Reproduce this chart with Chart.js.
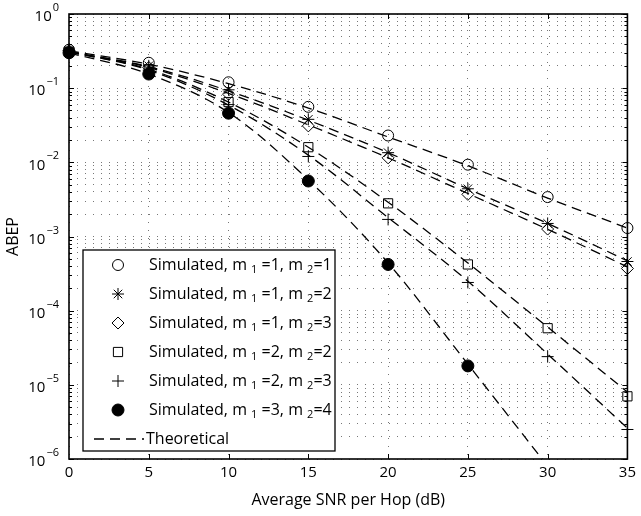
<!DOCTYPE html>
<html lang="en">
<head>
  <meta charset="UTF-8" />
  <title>ABEP vs Average SNR per Hop</title>
  <script src="https://cdn.jsdelivr.net/npm/chart.js"></script>
  <style>
    html, body { margin: 0; padding: 0; background: #fff; }
    #wrap { width: 641px; height: 516px; }
  </style>
</head>
<body>
  <div id="wrap"><canvas id="abepChart"></canvas></div>

  <script>
    // x values (dB)
    const snrDb = [0, 5, 10, 15, 20, 25, 30, 35];

    // simulated points
    const sim11 = [0.33, 0.22, 0.12, 0.056, 0.023, 0.0093, 0.0034, 0.0013];
    const sim12 = [0.32, 0.20, 0.095, 0.038, 0.0135, 0.0044, 0.0015, 0.00046];
    const sim13 = [0.32, 0.19, 0.083, 0.031, 0.0115, 0.0037, 0.00126, 0.00037];
    const sim22 = [0.31, 0.18, 0.065, 0.016, 0.0028, 0.00042, 0.000058, 0.000007];
    const sim23 = [0.31, 0.175, 0.060, 0.012, 0.0017, 0.00024, 0.000024, 0.0000025];
    const sim34 = [0.30, 0.155, 0.046, 0.0056, 0.00042, 0.000018];

    // theoretical curves
    const theo11 = [0.32, 0.21, 0.115, 0.054, 0.022, 0.0090, 0.0033, 0.0013];
    const theo12 = [0.31, 0.195, 0.092, 0.037, 0.0135, 0.0044, 0.0015, 0.00047];
    const theo13 = [0.31, 0.19, 0.085, 0.032, 0.0115, 0.0038, 0.00125, 0.00039];
    const theo22 = [0.31, 0.18, 0.065, 0.016, 0.0029, 0.00044, 0.00006, 0.000008];
    const theo23 = [0.31, 0.175, 0.059, 0.0125, 0.0018, 0.00025, 0.000026, 0.0000026];
    const theo34 = [0.30, 0.155, 0.047, 0.0058, 0.00044, 0.000019, 0.0000008];

    const fadingPairs = [["1", "1"], ["1", "2"], ["1", "3"], ["2", "2"], ["2", "3"], ["3", "4"]];
    const markerStyles = ["circle", "star", "rectRot", "rect", "cross", "circle"];
    const markerRadius = [5.5, 6, 6, 6.5, 6, 6];
    const markerFilled = [false, false, false, false, false, true];

    const simSeries = [sim11, sim12, sim13, sim22, sim23, sim34];
    const theoSeries = [theo11, theo12, theo13, theo22, theo23, theo34];

    const fontFamily = "'Open Sans', sans-serif";
    Chart.defaults.font.family = fontFamily;
    Chart.defaults.color = "#000";

    function toPoints(arr) {
      return arr.map((v, i) => ({ x: snrDb[i], y: v }));
    }

    const datasets = [];
    simSeries.forEach((s, i) => {
      datasets.push({
        label: "sim" + i,
        data: toPoints(s),
        showLine: false,
        pointStyle: markerStyles[i],
        pointRadius: markerRadius[i],
        pointBorderWidth: 1,
        borderColor: "#000",
        pointBorderColor: "#000",
        pointBackgroundColor: markerFilled[i] ? "#000" : "rgba(0,0,0,0)",
        clip: false
      });
    });
    theoSeries.forEach((s, i) => {
      datasets.push({
        label: "theo" + i,
        data: toPoints(s),
        borderColor: "#000",
        borderWidth: 1.3,
        borderDash: [10, 6],
        pointRadius: 0,
        cubicInterpolationMode: "monotone",
        fill: false
      });
    });

    // "Simulated, m1 =a, m2=b" with lowered indices
    const drawSimLabel = (ctx, x, y, a, b) => {
      const big = "16px " + fontFamily;
      const small = "11px " + fontFamily;
      const pieces = [
        ["Simulated, m ", big, 0],
        ["1", small, 5],
        [" =" + a + ", m ", big, 0],
        ["2", small, 5],
        ["=" + b, big, 0]
      ];
      let cx = x;
      pieces.forEach(p => {
        ctx.font = p[1];
        ctx.fillText(p[0], cx, y + p[2]);
        cx += ctx.measureText(p[0]).width;
      });
    };

    const framePlugin = {
      id: "frame",
      afterDraw(chart) {
        const ctx = chart.ctx;
        const area = chart.chartArea;
        const xs = chart.scales.x;
        const ys = chart.scales.y;
        ctx.save();
        ctx.strokeStyle = "#000";

        // inward ticks on all four sides
        ctx.lineWidth = 1;
        ctx.beginPath();
        for (let v = 5; v < 35; v += 5) {
          const px = Math.round(xs.getPixelForValue(v)) + 0.5;
          ctx.moveTo(px, area.bottom); ctx.lineTo(px, area.bottom - 5);
          ctx.moveTo(px, area.top); ctx.lineTo(px, area.top + 5);
        }
        ys.ticks.forEach(t => {
          const py = Math.round(ys.getPixelForValue(t.value)) + 0.5;
          const mant = t.value / Math.pow(10, Math.floor(Math.log10(t.value) + 1e-9));
          const len = Math.abs(mant - 1) < 1e-6 ? 5 : 3;
          ctx.moveTo(area.left, py); ctx.lineTo(area.left + len, py);
          ctx.moveTo(area.right, py); ctx.lineTo(area.right - len, py);
        });
        ctx.stroke();

        // box
        ctx.lineWidth = 1.6;
        ctx.strokeRect(area.left, area.top, area.right - area.left, area.bottom - area.top);

        // y tick labels 10^k
        ctx.fillStyle = "#000";
        ctx.textBaseline = "middle";
        ctx.textAlign = "left";
        for (let k = -6; k <= 0; k++) {
          const py = ys.getPixelForValue(Math.pow(10, k));
          const exp = k === 0 ? "0" : "\u2212" + (-k);
          ctx.font = "11px " + fontFamily;
          const ew = ctx.measureText(exp).width;
          ctx.font = "15px " + fontFamily;
          const bw = ctx.measureText("10").width;
          const right = area.left - 10;
          ctx.fillText("10", right - ew - bw - 1, py + 3);
          ctx.font = "11px " + fontFamily;
          ctx.fillText(exp, right - ew, py - 6);
        }

        // y title
        ctx.save();
        ctx.translate(13, (area.top + area.bottom) / 2);
        ctx.rotate(-Math.PI / 2);
        ctx.textAlign = "center";
        ctx.font = "16px " + fontFamily;
        ctx.fillText("ABEP", 0, 0);
        ctx.restore();

        // legend
        const lx = 83, ly = 250, lw = 252, lh = 201;
        ctx.fillStyle = "#fff";
        ctx.fillRect(lx, ly, lw, lh);
        ctx.lineWidth = 1.3;
        ctx.strokeStyle = "#000";
        ctx.strokeRect(lx, ly, lw, lh);
        ctx.textAlign = "left";
        ctx.textBaseline = "middle";
        fadingPairs.forEach((pr, i) => {
          const rowY = ly + 15 + i * 29;
          ctx.lineWidth = 1;
          ctx.strokeStyle = "#000";
          ctx.fillStyle = markerFilled[i] ? "#000" : "rgba(0,0,0,0)";
          Chart.helpers.drawPoint(ctx, {
            pointStyle: markerStyles[i],
            radius: markerRadius[i],
            borderWidth: 1,
            rotation: 0
          }, 118, rowY);
          ctx.fillStyle = "#000";
          drawSimLabel(ctx, 149, rowY, pr[0], pr[1]);
        });
        const thY = ly + 15 + 6 * 29;
        ctx.setLineDash([10, 6]);
        ctx.lineWidth = 1.3;
        ctx.beginPath();
        ctx.moveTo(94, thY); ctx.lineTo(144, thY);
        ctx.stroke();
        ctx.setLineDash([]);
        ctx.font = "16px " + fontFamily;
        ctx.fillText("Theoretical", 146, thY);

        ctx.restore();
      }
    };

    new Chart(document.getElementById("abepChart"), {
      type: "line",
      data: { datasets: datasets },
      plugins: [framePlugin],
      options: {
        responsive: true,
        maintainAspectRatio: false,
        animation: false,
        devicePixelRatio: 1,
        layout: { padding: { top: 14, right: 9, left: 0, bottom: 0 } },
        plugins: { legend: { display: false }, tooltip: { enabled: false } },
        scales: {
          x: {
            type: "linear",
            min: 0,
            max: 35,
            ticks: { stepSize: 5, color: "#000", font: { size: 15 }, padding: 5 },
            grid: { color: "#777", drawTicks: false },
            border: { display: false, dash: [1, 7] },
            title: {
              display: true,
              text: "Average SNR per Hop (dB)",
              color: "#000",
              font: { size: 16 },
              padding: { top: 0, bottom: 6 }
            },
            afterFit(scale) { scale.height = 57; }
          },
          y: {
            type: "logarithmic",
            min: 1e-6,
            max: 1,
            ticks: { display: false },
            grid: { color: "#777", drawTicks: false },
            border: { display: false, dash: [1, 7] },
            afterBuildTicks(scale) {
              const t = [];
              for (let k = -6; k < 0; k++) {
                for (let d = 1; d <= 9; d++) t.push({ value: d * Math.pow(10, k) });
              }
              t.push({ value: 1 });
              scale.ticks = t;
            },
            afterFit(scale) { scale.width = 69; }
          }
        }
      }
    });
  </script>
</body>
</html>
